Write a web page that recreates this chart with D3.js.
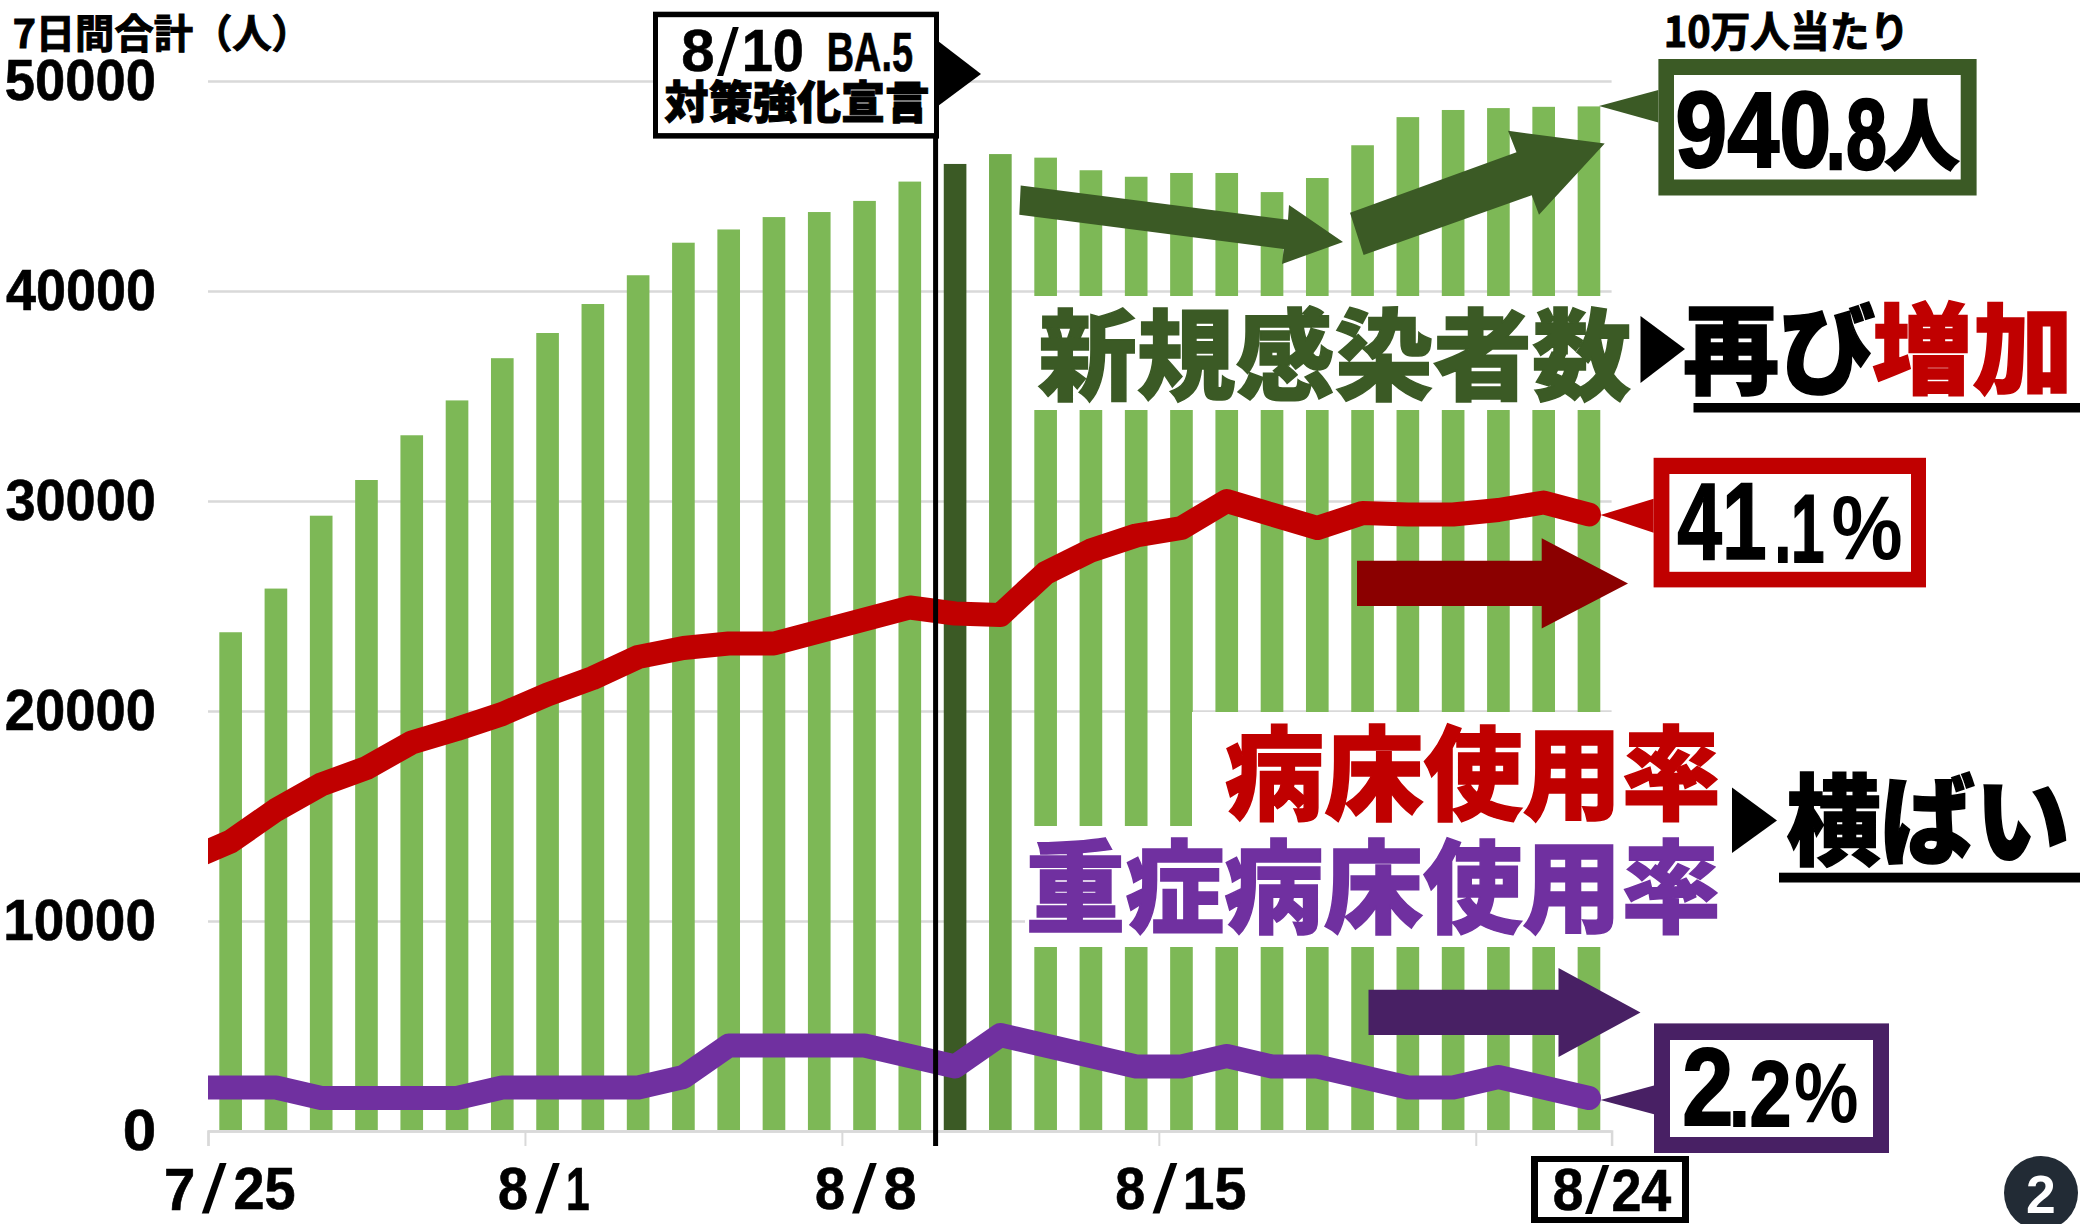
<!DOCTYPE html>
<html>
<head>
<meta charset="utf-8">
<script src="https://cdnjs.cloudflare.com/ajax/libs/d3/7.8.5/d3.min.js"></script>
<style>
html,body{margin:0;padding:0;background:#fff;}
svg{display:block;}
</style>
</head>
<body>
<script>
const WIDTH = 2080;
const HEIGHT = 1224;
const LEFT = 208;
const RIGHT = 1611.6;
const TOP = 81;
const BOTTOM = 1131;

const CJK = '"Noto Sans CJK JP"';
const LATIN = '"Liberation Sans"';
const NARROW = '"Liberation Sans Narrow","Liberation Sans"';

const GREEN = '#7DB856';
const DARK_GREEN = '#3B5A25';
const RED = '#C00000';
const DARK_RED = '#8B0000';
const PURPLE = '#7030A0';
const DARK_PURPLE = '#482064';

// 7/25 - 8/24
var newCases = [23750,25830,29300,31000,33130,34790,36800,38000,39380,40750,42300,42930,43520,43760,44290,45210,46050,46520,46350,45750,45440,45620,45620,44710,45380,46940,48280,48620,48710,48770,48790];
// both rate series start one day earlier, 7/24 is cut off by the axis
var bedRate = [18.0,19.3,21.4,23.1,24.2,25.9,26.8,27.8,29.1,30.2,31.6,32.2,32.5,32.5,33.3,34.1,34.9,34.5,34.4,37.2,38.7,39.7,40.2,42.0,41.1,40.2,41.2,41.1,41.1,41.4,41.9,41.1];
var severeRate = [2.9,2.9,2.9,2.2,2.2,2.2,2.2,2.9,2.9,2.9,2.9,3.6,5.7,5.7,5.7,5.7,5.0,4.3,6.4,5.7,5.0,4.3,4.3,5.0,4.3,4.3,3.6,2.9,2.9,3.6,2.9,2.2];
var yTicks = [0,10000,20000,30000,40000,50000];
var dateTicks = [0,7,14,21,28];
var dateLabels = [['7','25'],['8','1'],['8','8'],['8','15']];
var highlightDay = 16;

var svg = d3.select('body').append('svg')
	.attr('width',WIDTH)
	.attr('height',HEIGHT);

var ctx = document.createElement('canvas').getContext('2d');

// scale a text so that its ink fills the box [x0,y0,x1,y1]
var fitText = function(str,box,color,family,weight,thicken){
	var size = 100;
	ctx.font = weight+' '+size+'px '+family;
	var m = ctx.measureText(str);
	var sx = (box[2]-box[0])/(m.actualBoundingBoxLeft+m.actualBoundingBoxRight);
	var sy = (box[3]-box[1])/(m.actualBoundingBoxAscent+m.actualBoundingBoxDescent);
	var t = svg.append('text')
		.attr('transform','translate('+(box[0]+m.actualBoundingBoxLeft*sx)+','+(box[1]+m.actualBoundingBoxAscent*sy)+') scale('+sx+','+sy+')')
		.attr('font-family',family)
		.attr('font-weight',weight)
		.attr('font-size',size)
		.attr('fill',color)
		.text(str);
	if(thicken){
		t.attr('stroke',color)
			.attr('stroke-width',thicken/((sx+sy)/2))
			.attr('stroke-linejoin','miter');
	}
	return t;
}

var polygon = function(points,color){
	svg.append('polygon')
		.attr('points',points.map(function(p){return p.join(',')}).join(' '))
		.attr('fill',color);
}

var rect = function(x0,y0,x1,y1,color){
	svg.append('rect')
		.attr('x',x0).attr('y',y0)
		.attr('width',x1-x0).attr('height',y1-y0)
		.attr('fill',color);
}

// value box, outer and inner edge given separately as the border is uneven
var valueBox = function(outer,inner,color,tail){
	rect(outer[0],outer[1],outer[2],outer[3],color);
	rect(inner[0],inner[1],inner[2],inner[3],'#fff');
	polygon(tail,color);
}

var xScale = d3.scaleLinear().domain([-0.5,30.5]).range([LEFT,RIGHT]);
var yScale = d3.scaleLinear().domain([0,50000]).range([BOTTOM,TOP]);
var rateScale = d3.scaleLinear().domain([0,70]).range([BOTTOM,TOP]);
var barWidth = (xScale(1)-xScale(0))/2;

// grid and left labels
var yAxis = d3.axisLeft(yScale)
	.tickValues(yTicks)
	.tickSize(-(RIGHT-LEFT))
	.tickFormat('');
var yGroup = svg.append('g')
	.attr('transform','translate('+LEFT+',0)')
	.call(yAxis);
yGroup.select('.domain').remove();
yGroup.selectAll('line').attr('stroke','#D9D9D9').attr('stroke-width',2.5);

yTicks.forEach(function(v){
	var label = String(v);
	var w = label.length*29.5;
	var mid = yScale(v);
	fitText(label,[154-w,mid-20.5,154,mid+20],'#000',NARROW,'bold',0.6);
});

// bottom axis, ticks sit between the days
var xAxis = d3.axisBottom(xScale)
	.tickValues(dateTicks.map(function(d){return d-0.5}))
	.tickSize(15)
	.tickFormat('');
var xGroup = svg.append('g')
	.attr('transform','translate(0,'+BOTTOM+')')
	.call(xAxis);
xGroup.select('.domain').attr('stroke','#D9D9D9').attr('stroke-width',2.5);
xGroup.selectAll('line').attr('stroke','#D9D9D9').attr('stroke-width',2);

// bars
svg.append('g').selectAll('rect')
	.data(newCases)
	.enter().append('rect')
	.attr('x',function(d,i){return xScale(i)-barWidth/2})
	.attr('y',function(d){return yScale(d)})
	.attr('width',barWidth)
	.attr('height',function(d){return BOTTOM-yScale(d)-1})
	.attr('fill',function(d,i){
		if(i==highlightDay) return DARK_GREEN;
		return i==highlightDay+1 ? '#72AC4C' : GREEN;
	});

// white patches behind the big headings
rect(1012,296,WIDTH,410,'#fff');
rect(1192,712,1730,827,'#fff');
rect(1025,826,1730,947,'#fff');

// lines
svg.append('clipPath').attr('id','plot')
	.append('rect')
	.attr('x',LEFT).attr('y',0)
	.attr('width',WIDTH-LEFT).attr('height',HEIGHT);

var rateLine = d3.line()
	.x(function(d,i){return xScale(i-1)})
	.y(function(d){return rateScale(d)});

[[severeRate,PURPLE],[bedRate,RED]].forEach(function(s){
	svg.append('path')
		.attr('clip-path','url(#plot)')
		.attr('d',rateLine(s[0]))
		.attr('fill','none')
		.attr('stroke',s[1])
		.attr('stroke-width',24)
		.attr('stroke-linecap','round')
		.attr('stroke-linejoin','round');
});

// date labels, month / day drawn apart because the slash is thin and wide
var dateLabel = function(month,day,mid){
	var slash = mid-(day.length==2 ? 16.5 : 0);
	var dayWidth = day=='1' ? 20 : day.length*29.5;
	fitText(month,[slash-48,1168,slash-21,1210],'#000',NARROW,'bold',0.6);
	fitText('/',[slash-12.5,1163.5,slash+12.5,1214],'#000',NARROW,'normal');
	fitText(day,[slash+21,1168,slash+21+dayWidth,1210],'#000',NARROW,'bold',0.6);
}
dateLabels.forEach(function(label,i){
	dateLabel(label[0],label[1],xScale(dateTicks[i]));
});
rect(1531,1156,1689,1223,'#000');
rect(1538,1162,1682,1217,'#fff');
fitText('8',[1554.4,1169,1582,1211],'#000',NARROW,'bold',0.6);
fitText('/',[1585,1165,1609.5,1214],'#000',NARROW,'normal');
fitText('24',[1613,1169,1671.5,1211],'#000',NARROW,'bold',0.6);

// axis title, corner labels
fitText('7日間合計（人）',[14.6,13.7,285,52],'#000',CJK,700,1);
fitText('10万人当たり',[1667,11,1902,51.5],'#000',CJK,700,1);

// announcement box and its line
svg.append('line')
	.attr('x1',935.6).attr('x2',935.6)
	.attr('y1',136).attr('y2',1146)
	.attr('stroke','#000').attr('stroke-width',5);
rect(653,11.7,939,138.6,'#000');
rect(658,17.2,934,133.1,'#fff');
polygon([[938,41],[981,74],[938,106]],'#000');
fitText('8',[683,30,713,72],'#000',NARROW,'bold',0.6);
fitText('/',[717,26.5,739,76],'#000',NARROW,'normal');
fitText('10',[745,30,802,72],'#000',NARROW,'bold',0.6);
fitText('BA.5',[829,33,912,72],'#000',NARROW,'bold',0.6);
fitText('対策強化宣言',[665,80,928,124],'#000',CJK,900,1);

// arrows
polygon([[1020.7,185.4],[1288,219.7],[1289,205],[1343,242],[1282,263.9],[1283.7,249],[1019.3,214.7]],DARK_GREEN);
polygon([[1350,212.7],[1516.5,152.2],[1508,130.8],[1604.7,143.6],[1539,214.7],[1531.7,195.2],[1363.6,254.9]],DARK_GREEN);
polygon([[1357,560.7],[1541.7,560.7],[1541.7,538.3],[1628,583.5],[1541.7,628.4],[1541.7,606],[1357,606]],DARK_RED);
polygon([[1368.5,989.8],[1558.5,989.8],[1558.5,968],[1640.5,1012.5],[1558.5,1057],[1558.5,1035],[1368.5,1035]],DARK_PURPLE);

// value boxes
valueBox([1658.4,59,1976.6,195.5],[1674,75,1960.7,179.5],DARK_GREEN,[[1658.4,90],[1599,106],[1658.4,122.6]]);
fitText('940',[1678,91,1828,168],'#000',NARROW,'bold',2);
fitText('.8',[1830,99.5,1885,170],'#000',NARROW,'bold',2);
fitText('人',[1885,99.5,1958.7,172],'#000',CJK,900,1.5);
valueBox([1653.6,457.8,1926,587.4],[1669.4,474,1911,571.8],RED,[[1653.6,498.8],[1600.5,515],[1653.6,532.8]]);
fitText('41',[1678,484,1764.5,559],'#000',NARROW,'bold',1.5);
fitText('.1',[1778,495,1823,562],'#000',NARROW,'bold',1.5);
fitText('%',[1833,496,1901,560],'#000',NARROW,'bold');
valueBox([1654,1023.4,1889,1153],[1670,1040,1873,1137],DARK_PURPLE,[[1654,1085.5],[1600.5,1100],[1654,1114.3]]);
fitText('2',[1685,1049,1730,1125],'#000',NARROW,'bold',2);
fitText('.2',[1733.5,1061,1788.5,1126],'#000',NARROW,'bold',2);
fitText('%',[1795.4,1063,1857,1123],'#000',NARROW,'bold');

// headings
fitText('新規感染者数',[1038,304.4,1630,402.8],DARK_GREEN,CJK,900,1.5);
polygon([[1640.5,316],[1685,349],[1640.5,383]],'#000');
fitText('再び',[1685,302.5,1874.6,396],'#000',CJK,900,1.5);
fitText('増加',[1873,300,2066,397],RED,CJK,900,1.5);
rect(1693.5,403,2080,412.5,'#000');

fitText('病床使用率',[1226,723,1718,822.8],RED,CJK,900,1.5);
fitText('重症病床使用率',[1029.6,837,1718,936],PURPLE,CJK,900,1.5);
polygon([[1732,787.6],[1777,820.4],[1732,853]],'#000');
fitText('横ばい',[1787,772,2066,867.7],'#000',CJK,900,1.5);
rect(1779,872.7,2080,882.5,'#000');

// page number
svg.append('circle').attr('cx',2041).attr('cy',1193).attr('r',37).attr('fill','#222B35');
fitText('2',[2027.5,1176,2053.7,1213],'#fff',LATIN,'bold');
</script>
</body>
</html>
